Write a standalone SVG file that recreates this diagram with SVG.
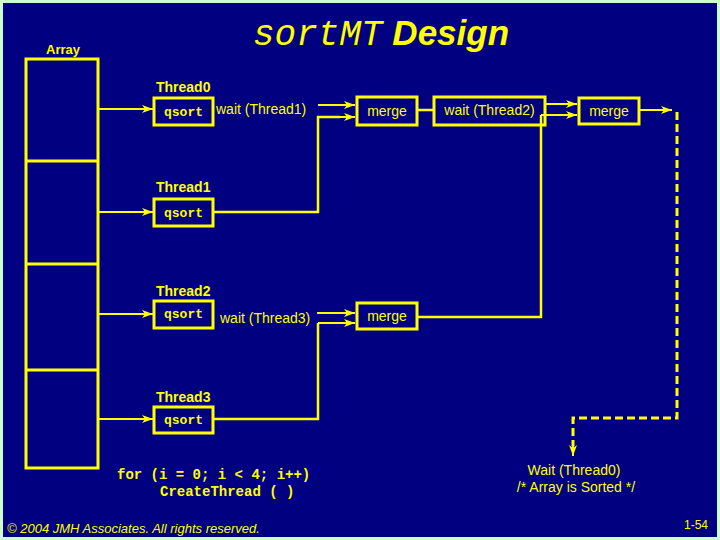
<svg xmlns="http://www.w3.org/2000/svg" width="720" height="540" viewBox="0 0 720 540">
<defs>
<style>
.t{font-family:"Liberation Sans",Arial,sans-serif;fill:#ffff00;font-size:14px}
.b{font-weight:bold}
.m{font-family:"Liberation Mono","Courier New",monospace;font-weight:bold;fill:#ffff00;font-size:13px}
.box{fill:none;stroke:#ffff00;stroke-width:3}
.c{fill:none;stroke:#ffff00;stroke-width:2.5}
.a{fill:none;stroke:#ffff00;stroke-width:2;marker-end:url(#ah)}
.d{fill:none;stroke:#ffff00;stroke-width:3;stroke-dasharray:8 4}
</style>
<marker id="ah" markerUnits="userSpaceOnUse" markerWidth="11" markerHeight="8" refX="11" refY="4" orient="auto">
<path d="M0,0 L11,4 L0,8 L3,4 z" fill="#ffff00"/>
</marker>
</defs>
<rect x="0" y="0" width="720" height="540" fill="#ccffcc"/>
<rect x="3" y="3" width="714" height="534" fill="#000080"/>
<g id="title">
<text x="253" y="45" fill="#ffff00"><tspan font-family="'Liberation Mono','Courier New',monospace" font-style="italic" font-size="36">sortMT</tspan><tspan font-family="'Liberation Sans',Arial,sans-serif" font-weight="bold" font-style="italic" font-size="35"> Design</tspan></text>
</g>
<g id="array">
<text class="t b" x="46" y="54" style="font-size:13px">Array</text>
<rect class="box" x="26" y="59" width="72" height="409"/>
<line class="box" x1="26" y1="161" x2="98" y2="161"/>
<line class="box" x1="26" y1="264" x2="98" y2="264"/>
<line class="box" x1="26" y1="370" x2="98" y2="370"/>
</g>
<g id="thread0">
<text class="t b" x="156" y="92">Thread0</text>
<rect class="box" x="154" y="98" width="59" height="27"/>
<text class="m" x="183.5" y="116" text-anchor="middle">qsort</text>
<text class="t" x="216" y="114">wait (Thread1)</text>
</g>
<g id="thread1">
<text class="t b" x="156" y="192">Thread1</text>
<rect class="box" x="154" y="199" width="59" height="27"/>
<text class="m" x="183.5" y="217" text-anchor="middle">qsort</text>
</g>
<g id="thread2">
<text class="t b" x="156" y="296">Thread2</text>
<rect class="box" x="154" y="301" width="59" height="27"/>
<text class="m" x="183.5" y="318" text-anchor="middle">qsort</text>
<text class="t" x="220" y="323">wait (Thread3)</text>
</g>
<g id="thread3">
<text class="t b" x="156" y="402">Thread3</text>
<rect class="box" x="154" y="407" width="59" height="26"/>
<text class="m" x="183.5" y="424" text-anchor="middle">qsort</text>
</g>
<g id="merge1">
<rect class="box" x="357" y="97" width="60" height="28"/>
<text class="t" x="387" y="116" text-anchor="middle">merge</text>
</g>
<g id="waitThread2">
<rect class="box" x="434" y="97" width="111" height="28"/>
<text class="t" x="489.5" y="115" text-anchor="middle">wait (Thread2)</text>
</g>
<g id="merge3">
<rect class="box" x="579" y="98" width="60" height="26"/>
<text class="t" x="609" y="116" text-anchor="middle">merge</text>
</g>
<g id="merge2">
<rect class="box" x="357" y="303" width="60" height="26"/>
<text class="t" x="387" y="321" text-anchor="middle">merge</text>
</g>
<g id="connectors">
<line class="a" x1="98" y1="109" x2="153" y2="109"/>
<line class="a" x1="98" y1="212" x2="153" y2="212"/>
<line class="a" x1="98" y1="314" x2="153" y2="314"/>
<line class="a" x1="98" y1="419" x2="153" y2="419"/>
<line class="a" x1="318" y1="105" x2="355" y2="105"/>
<path class="c" d="M213,212 H318 V117 H340"/>
<line class="a" x1="318" y1="117" x2="355" y2="117"/>
<line class="c" x1="417" y1="110" x2="434" y2="110"/>
<line class="a" x1="545" y1="104" x2="577" y2="104"/>
<path class="c" d="M417,317 H541 V115"/>
<line class="a" x1="541" y1="115" x2="577" y2="115"/>
<line class="a" x1="317" y1="313" x2="355" y2="313"/>
<path class="c" d="M213,419 H318 V323"/>
<line class="a" x1="318" y1="323" x2="355" y2="323"/>
<line class="a" x1="639" y1="110" x2="672" y2="110"/>
<path class="d" d="M677,112 V418 H573 V446"/>
<line class="a" x1="573" y1="444" x2="573" y2="456"/>
</g>
<g id="code">
<text class="m" x="117" y="479" style="font-size:14px">for (i = 0; i &lt; 4; i++)</text>
<text class="m" x="160" y="496" style="font-size:14px">CreateThread ( )</text>
</g>
<g id="result">
<text class="t" x="574" y="475" text-anchor="middle">Wait (Thread0)</text>
<text class="t" x="576" y="492" text-anchor="middle">/* Array is Sorted */</text>
</g>
<g id="footer">
<text class="t" x="7" y="533" style="font-size:13px;font-style:italic">© 2004 JMH Associates. All rights reserved.</text>
<text class="t" x="684" y="529" style="font-size:12px">1-54</text>
</g>
</svg>
